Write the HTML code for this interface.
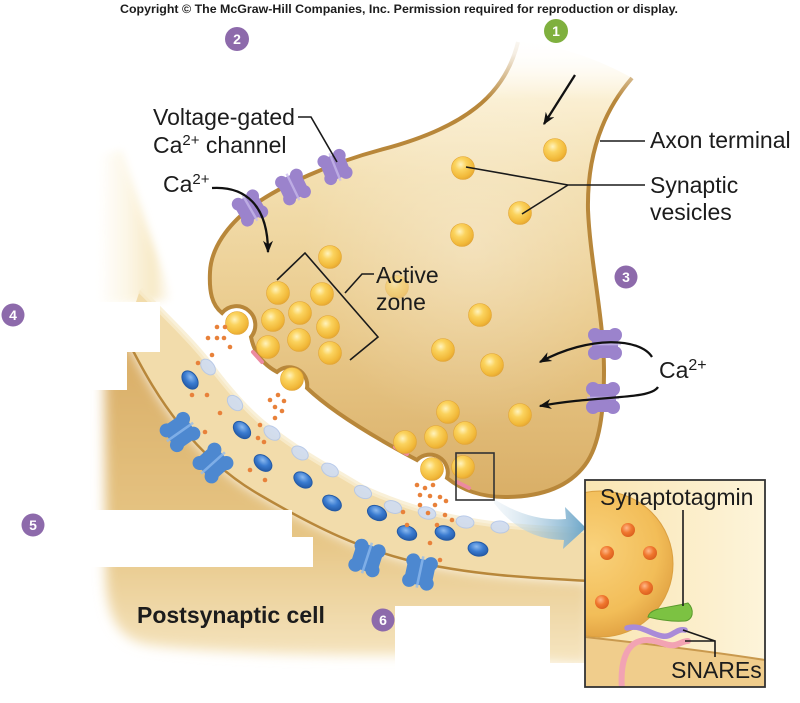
<!DOCTYPE html>
<html><head><meta charset="utf-8"><style>
html,body{margin:0;padding:0;background:#fff;}
svg{display:block;}
text{font-family:"Liberation Sans",Arial,sans-serif;fill:#1c1c1c;}
</style></head><body>
<svg width="800" height="703" viewBox="0 0 800 703" xmlns="http://www.w3.org/2000/svg">
<defs>
<linearGradient id="preG" gradientUnits="userSpaceOnUse" x1="0" y1="40" x2="0" y2="500">
<stop offset="0" stop-color="#fffdf7"/><stop offset="0.12" stop-color="#fbf0d4"/><stop offset="0.3" stop-color="#f3dfb0"/><stop offset="0.6" stop-color="#eacb8d"/><stop offset="1" stop-color="#d9ae66"/></linearGradient>
<radialGradient id="preHi" cx="0.62" cy="0.45" r="0.4"><stop offset="0" stop-color="#fff" stop-opacity="0.3"/><stop offset="1" stop-color="#fff" stop-opacity="0"/></radialGradient>
<linearGradient id="topFade" gradientUnits="userSpaceOnUse" x1="0" y1="30" x2="0" y2="100">
<stop offset="0" stop-color="#fff" stop-opacity="1"/><stop offset="0.35" stop-color="#fff" stop-opacity="0.85"/><stop offset="1" stop-color="#fff" stop-opacity="0"/></linearGradient>
<linearGradient id="intG" gradientUnits="userSpaceOnUse" x1="0" y1="340" x2="0" y2="665">
<stop offset="0" stop-color="#d9ad66"/><stop offset="0.6" stop-color="#e6c584"/><stop offset="1" stop-color="#f6e6c2"/></linearGradient>
<linearGradient id="coneG" x1="0" y1="0" x2="1" y2="0">
<stop offset="0" stop-color="#fff"/><stop offset="0.4" stop-color="#fcf5e2"/><stop offset="0.75" stop-color="#f6e6bd"/><stop offset="1" stop-color="#fff"/></linearGradient>
<radialGradient id="vg" cx="0.4" cy="0.35" r="0.7"><stop offset="0" stop-color="#fff3bd"/><stop offset="0.35" stop-color="#fbd35e"/><stop offset="0.8" stop-color="#f1b838"/><stop offset="1" stop-color="#e2a232"/></radialGradient>
<radialGradient id="bg" cx="0.4" cy="0.35" r="0.7"><stop offset="0" stop-color="#8cbaf0"/><stop offset="0.5" stop-color="#3a7bd0"/><stop offset="1" stop-color="#2358a4"/></radialGradient>
<radialGradient id="og" cx="0.4" cy="0.35" r="0.7"><stop offset="0" stop-color="#ffb98a"/><stop offset="0.5" stop-color="#f0772e"/><stop offset="1" stop-color="#d85c1c"/></radialGradient>
<radialGradient id="bigV" cx="0.45" cy="0.4" r="0.6"><stop offset="0" stop-color="#f9d27c"/><stop offset="0.75" stop-color="#f2bd58"/><stop offset="1" stop-color="#e3a545"/></radialGradient>
<linearGradient id="insetBg" x1="0" y1="0" x2="1" y2="0"><stop offset="0" stop-color="#f9e5b2"/><stop offset="1" stop-color="#fdf4da"/></linearGradient>
<linearGradient id="arrG" gradientUnits="userSpaceOnUse" x1="495" y1="0" x2="585" y2="0">
<stop offset="0" stop-color="#d8e6f0" stop-opacity="0.3"/><stop offset="1" stop-color="#6ea7c9"/></linearGradient>
<filter id="blur" x="-10%" y="-10%" width="120%" height="120%"><feGaussianBlur stdDeviation="6"/></filter>
<filter id="blur2" x="-30%" y="-20%" width="160%" height="140%"><feGaussianBlur stdDeviation="4"/></filter>
<clipPath id="insetClip"><rect x="585" y="480" width="180" height="207"/></clipPath>
<marker id="ah" viewBox="0 0 10 8" refX="9" refY="4" markerWidth="13" markerHeight="10" markerUnits="userSpaceOnUse" orient="auto">
<path d="M0,0 L10,4 L0,8 L3,4 Z" fill="#111"/></marker>
<g id="chP">
<rect x="-14" y="-13" width="28" height="26" rx="4" fill="#9b83cc"/>
<circle cx="-9" cy="-10" r="7" fill="#9b83cc"/><circle cx="9" cy="-10" r="7" fill="#9b83cc"/>
<circle cx="-9" cy="10" r="7" fill="#9b83cc"/><circle cx="9" cy="10" r="7" fill="#9b83cc"/>
<rect x="-1.3" y="-16" width="2.6" height="32" fill="#c8b9ec" opacity="0.75"/>
</g>
<g id="chB">
<rect x="-14" y="-13" width="28" height="26" rx="4" fill="#4d88d0"/>
<circle cx="-9" cy="-10" r="7" fill="#4d88d0"/><circle cx="9" cy="-10" r="7" fill="#4d88d0"/>
<circle cx="-9" cy="10" r="7" fill="#4d88d0"/><circle cx="9" cy="10" r="7" fill="#4d88d0"/>
<rect x="-1.3" y="-16" width="2.6" height="32" fill="#8fbbef" opacity="0.75"/>
</g>
<circle id="ves" r="11.5" fill="url(#vg)" stroke="#e2a636" stroke-width="0.6"/>
<ellipse id="bo" rx="10" ry="7" fill="url(#bg)" stroke="#245aa5" stroke-width="1"/>
<ellipse id="po" rx="9" ry="6" fill="#cfdcf2" stroke="#b3c6e8" stroke-width="1" opacity="0.9"/>
</defs>

<!-- pale upper-left cone of postsynaptic cell -->
<path d="M100,155 L122,150 L172,300 L98,305 Z" fill="url(#coneG)" filter="url(#blur2)" opacity="0.85"/>

<!-- postsynaptic interior -->
<path d="M100,320 L125,335 C145,375 160,400 180,425 C200,450 225,475 260,495 C320,530 360,548 407,560 C470,575 530,578 590,581 L590,665 C520,662 450,655 380,655 C300,655 200,652 150,645 C120,640 108,620 106,580 L104,320 Z" fill="url(#intG)" filter="url(#blur)"/>

<!-- postsynaptic light band -->
<path d="M140,290 C170,320 195,345 208,362 C225,385 250,415 272,430 C300,452 330,468 363,488 C400,505 440,518 500,525 C540,529 570,530 590,530 L590,581 C530,578 470,575 407,560 C360,548 320,530 260,495 C225,475 200,450 180,425 C160,400 145,375 125,335 Z" fill="#f2dcab"/>
<path d="M140,290 C170,320 195,345 208,362 C225,385 250,415 272,430 C300,452 330,468 363,488 C400,505 440,518 500,525 C540,529 570,530 590,530" fill="none" stroke="#f8ecce" stroke-width="6" opacity="0.8"/>
<!-- postsynaptic membrane line -->
<path d="M125,335 C145,375 160,400 180,425 C200,450 225,475 260,495 C320,530 360,548 407,560 C470,575 530,578 590,581" fill="none" stroke="#b8873a" stroke-width="2.5"/>

<!-- pale (empty) receptors -->
<use href="#po" transform="translate(208,367) rotate(50)"/>
<use href="#po" transform="translate(235,403) rotate(45)"/>
<use href="#po" transform="translate(272,433) rotate(38)"/>
<use href="#po" transform="translate(300,453) rotate(33)"/>
<use href="#po" transform="translate(330,470) rotate(30)"/>
<use href="#po" transform="translate(363,492) rotate(25)"/>
<use href="#po" transform="translate(393,507) rotate(20)"/>
<use href="#po" transform="translate(427,513) rotate(15)"/>
<use href="#po" transform="translate(465,522) rotate(10)"/>
<use href="#po" transform="translate(500,527) rotate(5)"/>
<!-- blue receptors -->
<use href="#bo" transform="translate(190,380) rotate(55)"/>
<use href="#bo" transform="translate(242,430) rotate(45)"/>
<use href="#bo" transform="translate(263,463) rotate(40)"/>
<use href="#bo" transform="translate(303,480) rotate(35)"/>
<use href="#bo" transform="translate(332,503) rotate(30)"/>
<use href="#bo" transform="translate(377,513) rotate(25)"/>
<use href="#bo" transform="translate(407,533) rotate(20)"/>
<use href="#bo" transform="translate(445,533) rotate(15)"/>
<use href="#bo" transform="translate(478,549) rotate(12)"/>
<!-- blue channels -->
<use href="#chB" transform="translate(180,432) rotate(55)"/>
<use href="#chB" transform="translate(213,463) rotate(48)"/>
<use href="#chB" transform="translate(367,558) rotate(18)"/>
<use href="#chB" transform="translate(420,572) rotate(12)"/>

<!-- presynaptic terminal -->
<path d="M518,42 C505,95 465,128 380,150 C335,162 280,185 250,208 C228,225 211,248 210,272 C209,292 212,305 222,313 A18,18 0 0 1 251,337 C254,352 262,364 277,372 A18,18 0 0 1 307,388 C330,410 370,435 417,460 A18,18 0 0 1 447,478 C462,490 480,497 505,497 C545,497 570,485 585,465 C600,445 604,410 604,370 C604,320 590,260 588,210 C587,160 600,115 632,78 C600,60 560,45 518,42 Z" fill="url(#preG)"/>
<path d="M518,42 C505,95 465,128 380,150 C335,162 280,185 250,208 C228,225 211,248 210,272 C209,292 212,305 222,313 A18,18 0 0 1 251,337 C254,352 262,364 277,372 A18,18 0 0 1 307,388 C330,410 370,435 417,460 A18,18 0 0 1 447,478 C462,490 480,497 505,497 C545,497 570,485 585,465 C600,445 604,410 604,370 C604,320 590,260 588,210 C587,160 600,115 632,78 Z" fill="url(#preHi)" stroke="none"/>
<path d="M518,42 C505,95 465,128 380,150 C335,162 280,185 250,208 C228,225 211,248 210,272 C209,292 212,305 222,313 A18,18 0 0 1 251,337 C254,352 262,364 277,372 A18,18 0 0 1 307,388 C330,410 370,435 417,460 A18,18 0 0 1 447,478 C462,490 480,497 505,497 C545,497 570,485 585,465 C600,445 604,410 604,370 C604,320 590,260 588,210 C587,160 600,115 632,78" fill="none" stroke="#b8873a" stroke-width="4"/>
<!-- fade top of terminal -->
<rect x="470" y="25" width="200" height="80" fill="url(#topFade)"/>
<!-- pink patches -->
<g stroke="#ec8aa0" stroke-width="4" stroke-linecap="round">
<line x1="253" y1="352" x2="262" y2="362"/><line x1="395" y1="447" x2="407" y2="454"/><line x1="457" y1="482" x2="469" y2="488"/>
</g>

<!-- vesicles -->
<use href="#ves" x="555" y="150"/><use href="#ves" x="463" y="168"/><use href="#ves" x="520" y="213"/>
<use href="#ves" x="462" y="235"/><use href="#ves" x="330" y="257"/><use href="#ves" x="480" y="315"/>
<use href="#ves" x="443" y="350"/><use href="#ves" x="492" y="365"/>
<use href="#ves" x="397" y="287" opacity="0.45"/>
<use href="#ves" x="448" y="412"/><use href="#ves" x="520" y="415"/>
<use href="#ves" x="405" y="442"/><use href="#ves" x="436" y="437"/><use href="#ves" x="465" y="433"/>
<use href="#ves" x="278" y="293"/><use href="#ves" x="322" y="294"/><use href="#ves" x="273" y="320"/>
<use href="#ves" x="300" y="313"/><use href="#ves" x="328" y="327"/><use href="#ves" x="268" y="347"/>
<use href="#ves" x="299" y="340"/><use href="#ves" x="330" y="353"/>
<use href="#ves" x="237" y="323"/><use href="#ves" x="292" y="379"/>
<use href="#ves" x="432" y="469"/><use href="#ves" x="463" y="467"/>

<!-- purple Ca channels -->
<use href="#chP" transform="translate(250,208) rotate(-30) scale(0.92)"/>
<use href="#chP" transform="translate(293,187) rotate(-26) scale(0.92)"/>
<use href="#chP" transform="translate(335,167) rotate(-22) scale(0.92)"/>
<use href="#chP" transform="translate(605,344) rotate(90)"/>
<use href="#chP" transform="translate(603,398) rotate(90)"/>

<!-- neurotransmitter dots -->
<g fill="#e8813a">
<circle cx="217" cy="327" r="2.3"/><circle cx="225" cy="327" r="2.3"/><circle cx="208" cy="338" r="2.3"/><circle cx="217" cy="338" r="2.3"/><circle cx="224" cy="338" r="2.3"/><circle cx="212" cy="355" r="2.3"/><circle cx="198" cy="363" r="2.3"/><circle cx="192" cy="395" r="2.3"/><circle cx="207" cy="395" r="2.3"/><circle cx="220" cy="413" r="2.3"/><circle cx="205" cy="432" r="2.3"/><circle cx="230" cy="347" r="2.3"/>
<circle cx="270" cy="400" r="2.3"/><circle cx="278" cy="395" r="2.3"/><circle cx="284" cy="401" r="2.3"/><circle cx="275" cy="407" r="2.3"/><circle cx="282" cy="411" r="2.3"/><circle cx="275" cy="418" r="2.3"/><circle cx="260" cy="425" r="2.3"/><circle cx="258" cy="438" r="2.3"/><circle cx="264" cy="442" r="2.3"/><circle cx="250" cy="470" r="2.3"/><circle cx="265" cy="480" r="2.3"/>
<circle cx="417" cy="485" r="2.3"/><circle cx="425" cy="488" r="2.3"/><circle cx="433" cy="485" r="2.3"/><circle cx="420" cy="495" r="2.3"/><circle cx="430" cy="496" r="2.3"/><circle cx="440" cy="497" r="2.3"/><circle cx="420" cy="505" r="2.3"/><circle cx="435" cy="505" r="2.3"/><circle cx="446" cy="501" r="2.3"/><circle cx="403" cy="512" r="2.3"/><circle cx="428" cy="513" r="2.3"/><circle cx="445" cy="515" r="2.3"/><circle cx="407" cy="525" r="2.3"/><circle cx="437" cy="525" r="2.3"/><circle cx="430" cy="543" r="2.3"/><circle cx="440" cy="560" r="2.3"/><circle cx="452" cy="520" r="2.3"/>
</g>

<!-- blank label boxes -->
<g fill="#fff">
<rect x="0" y="302" width="160" height="50"/><rect x="0" y="352" width="127" height="38"/>
<rect x="0" y="510" width="292" height="27"/><rect x="0" y="537" width="313" height="30"/>
<rect x="395" y="606" width="155" height="97"/><rect x="550" y="663" width="35" height="40"/>
</g>

<!-- blue magnify arrow -->
<path d="M494,499 Q530,522 566,519 L565,507 L586,528 L563,549 L564,540 Q522,540 494,503 Z" fill="url(#arrG)"/>
<!-- small square -->
<rect x="456" y="453" width="38" height="47" fill="none" stroke="#333" stroke-width="1.6"/>

<!-- leaders and arrows -->
<g fill="none" stroke="#1a1a1a" stroke-width="1.6">
<path d="M298,117 L311,117 L337,162"/>
<path d="M277,280 L305,253 L378,337 L350,360"/>
<path d="M345,293 L362,274 L374,274"/>
<path d="M600,141 L645,141"/>
<path d="M645,185 L568,185 M568,185 L466,167 M568,185 L522,214"/>
</g>
<g fill="none" stroke="#111" stroke-width="2.3">
<path d="M575,75 L544,124" marker-end="url(#ah)"/>
<path d="M212,188 C245,186 268,205 268,252" marker-end="url(#ah)"/>
<path d="M652,357 C640,338 590,335 540,362" marker-end="url(#ah)"/>
<path d="M658,387 C650,400 600,395 540,406" marker-end="url(#ah)"/>
</g>

<!-- labels -->
<g font-size="23">
<text x="153" y="125">Voltage-gated</text>
<text x="153" y="153">Ca<tspan font-size="15" dy="-8">2+</tspan><tspan dy="8"> channel</tspan></text>
<text x="163" y="192">Ca<tspan font-size="15" dy="-8">2+</tspan></text>
<text x="376" y="283">Active</text>
<text x="376" y="310">zone</text>
<text x="650" y="148">Axon terminal</text>
<text x="650" y="193">Synaptic</text>
<text x="650" y="220">vesicles</text>
<text x="659" y="378">Ca<tspan font-size="16" dy="-8">2+</tspan></text>
<text x="137" y="623" font-weight="bold">Postsynaptic cell</text>
</g>

<!-- inset -->
<g clip-path="url(#insetClip)">
<rect x="585" y="480" width="180" height="207" fill="url(#insetBg)"/>
<path d="M585,637 C640,643 700,650 765,660 L765,687 L585,687 Z" fill="#f0cd8c"/>
<path d="M585,637 C640,643 700,650 765,660" fill="none" stroke="#c9994e" stroke-width="2"/>
<circle cx="600" cy="564" r="73" fill="url(#bigV)" stroke="#dba040" stroke-width="1"/>
<circle cx="628" cy="530" r="7" fill="url(#og)"/><circle cx="607" cy="553" r="7" fill="url(#og)"/>
<circle cx="650" cy="553" r="7" fill="url(#og)"/><circle cx="646" cy="588" r="7" fill="url(#og)"/>
<circle cx="602" cy="602" r="7" fill="url(#og)"/>
<path d="M648,617 C650,607 670,608 688,603 C695,610 693,620 685,621 C672,622 660,620 648,617 Z" fill="#7cc242" stroke="#5a9a2c" stroke-width="1"/>
<path d="M622,690 C620,665 625,645 640,641 C655,637 665,647 675,645 C680,644 683,641 688,641" fill="none" stroke="#f2a3b3" stroke-width="6" stroke-linecap="round"/>
<path d="M627,628 C640,624 650,634 662,636 C672,638 676,628 685,630" fill="none" stroke="#a98bd8" stroke-width="5.5" stroke-linecap="round"/>
<path d="M683,510 L683,606" fill="none" stroke="#1a1a1a" stroke-width="1.6"/>
<path d="M683,630 L715,641 M685,641 L715,641 L715,657" fill="none" stroke="#1a1a1a" stroke-width="1.6"/>
<text x="600" y="505" font-size="23">Synaptotagmin</text>
<text x="671" y="678" font-size="23">SNAREs</text>
</g>
<rect x="585" y="480" width="180" height="207" fill="none" stroke="#333" stroke-width="1.8"/>

<!-- step circles -->
<g font-weight="bold" font-size="14" text-anchor="middle">
<circle cx="556" cy="31" r="12" fill="#7fb03e"/><text x="556" y="36" style="fill:#fff">1</text>
<circle cx="237" cy="39" r="12" fill="#8d6aab"/><text x="237" y="44" style="fill:#fff">2</text>
<circle cx="626" cy="277" r="11.5" fill="#8d6aab"/><text x="626" y="282" style="fill:#fff">3</text>
<circle cx="13" cy="315" r="11.5" fill="#8d6aab"/><text x="13" y="320" style="fill:#fff">4</text>
<circle cx="33" cy="525" r="11.5" fill="#8d6aab"/><text x="33" y="530" style="fill:#fff">5</text>
<circle cx="383" cy="620" r="11.5" fill="#8d6aab"/><text x="383" y="625" style="fill:#fff">6</text>
</g>

<!-- copyright -->
<text x="399" y="13" font-size="11.5" font-weight="bold" text-anchor="middle" textLength="558" lengthAdjust="spacingAndGlyphs">Copyright © The McGraw-Hill Companies, Inc. Permission required for reproduction or display.</text>
</svg>
</body></html>
